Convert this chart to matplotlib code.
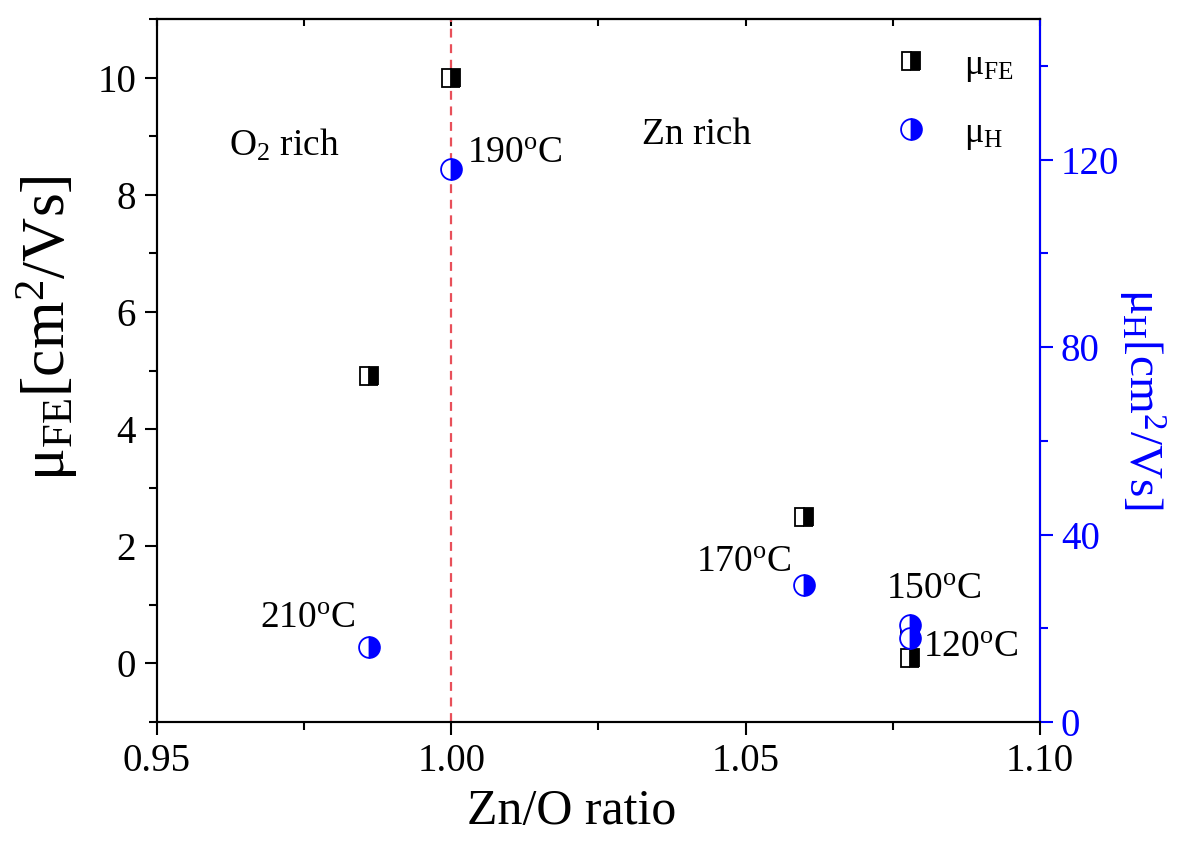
import numpy as np
import matplotlib
matplotlib.use("Agg")
import matplotlib.pyplot as plt
from matplotlib.ticker import MultipleLocator

plt.rcParams["font.family"] = ["Liberation Serif", "DejaVu Serif"]
plt.rcParams["mathtext.fontset"] = "custom"
plt.rcParams["mathtext.rm"] = "Liberation Serif"
plt.rcParams["mathtext.it"] = "Liberation Serif:italic"

# data
zn_o_fe = [0.986, 1.000, 1.060, 1.078, 1.078]
mu_fe = [4.9, 10.0, 2.5, 0.56, 0.09]

zn_o_h = [0.986, 1.000, 1.060, 1.078, 1.078]
mu_h = [16.0, 118.0, 29.2, 20.7, 17.9]

# temperature labels (x, y on left axis)
temp_labels = ["210", "190", "170", "150", "120"]
temp_x = [0.9756, 1.0107, 1.0497, 1.0819, 1.0883]
temp_y = [0.77, 8.70, 1.71, 1.25, 0.26]

fig = plt.figure(figsize=(12, 8.41), dpi=100)
ax = fig.add_axes([0.1308, 0.1415, 0.7358, 0.8359])
ax2 = ax.twinx()

l1, = ax.plot(zn_o_fe, mu_fe, ls="none", marker="s", ms=13, fillstyle="right",
              markerfacecolor="black", markerfacecoloralt="white",
              markeredgecolor="black", markeredgewidth=1.3, zorder=5)
l2, = ax2.plot(zn_o_h, mu_h, ls="none", marker="o", ms=15, fillstyle="right",
               markerfacecolor="blue", markerfacecoloralt="white",
               markeredgecolor="blue", markeredgewidth=1.3, zorder=5)

ax.axvline(1.0, color="#e8505a", ls=(0, (4, 3)), lw=1.6, zorder=1)

ax.set_xlim(0.95, 1.10)
ax.set_ylim(-1, 11)
ax2.set_ylim(0, 150)

# ticks
ax.xaxis.set_major_locator(MultipleLocator(0.05))
ax.xaxis.set_minor_locator(MultipleLocator(0.025))
ax.yaxis.set_major_locator(MultipleLocator(2))
ax.yaxis.set_minor_locator(MultipleLocator(1))
ax.xaxis.set_major_formatter(plt.FormatStrFormatter("%.2f"))
ax.tick_params(axis="both", which="major", direction="out", length=9, width=1.5,
               labelsize=28, pad=6)
ax.tick_params(axis="both", which="minor", direction="out", length=6, width=1.5)
ax.tick_params(axis="y", right=False)

top = ax.secondary_xaxis("top")
top.xaxis.set_major_locator(MultipleLocator(0.05))
top.xaxis.set_minor_locator(MultipleLocator(0.025))
top.tick_params(which="both", direction="in", length=5, width=1.5, labeltop=False)

ax2.yaxis.set_major_locator(MultipleLocator(40))
ax2.yaxis.set_minor_locator(MultipleLocator(20))
ax2.tick_params(axis="y", which="major", direction="out", length=9, width=1.5,
                colors="blue", labelsize=28, pad=6)
ax2.tick_params(axis="y", which="minor", direction="out", length=6, width=1.5,
                colors="blue")

for s in ax.spines.values():
    s.set_linewidth(1.5)
for s in ax2.spines.values():
    s.set_linewidth(1.5)
top.spines["top"].set_linewidth(1.5)
ax2.spines["right"].set_color("blue")

# labels
ax.set_xlabel("Zn/O ratio", fontsize=36)
ax.xaxis.set_label_coords(0.47, -0.095)
ax.set_ylabel(r"μ$_{\rm FE}$[cm$^2$/Vs]", fontsize=44)
ax.yaxis.set_label_coords(-0.087, 0.56)
ax2.set_ylabel(r"μ$_{\rm H}$[cm$^2$/Vs]", fontsize=34, color="blue",
               rotation=270, va="center")
ax2.yaxis.set_label_coords(1.115, 0.46)

# region annotations
ax.text(0.9717, 8.85, r"O$_2$ rich", fontsize=27, ha="center", va="center")
ax.text(1.0417, 9.02, "Zn rich", fontsize=27, ha="center", va="center")

for t, x, y in zip(temp_labels, temp_x, temp_y):
    ax.text(x, y, t + r"$^{\rm o}$C", fontsize=27, ha="center", va="center")

ax2.legend([l1, l2], [r"μ$_{\rm FE}$", r"μ$_{\rm H}$"], loc="upper left",
           bbox_to_anchor=(0.787, 1.004), frameon=False, fontsize=26,
           handlelength=1.5, handletextpad=0.7, labelspacing=0.9,
           numpoints=1)

fig.savefig("out.png", dpi=100)
